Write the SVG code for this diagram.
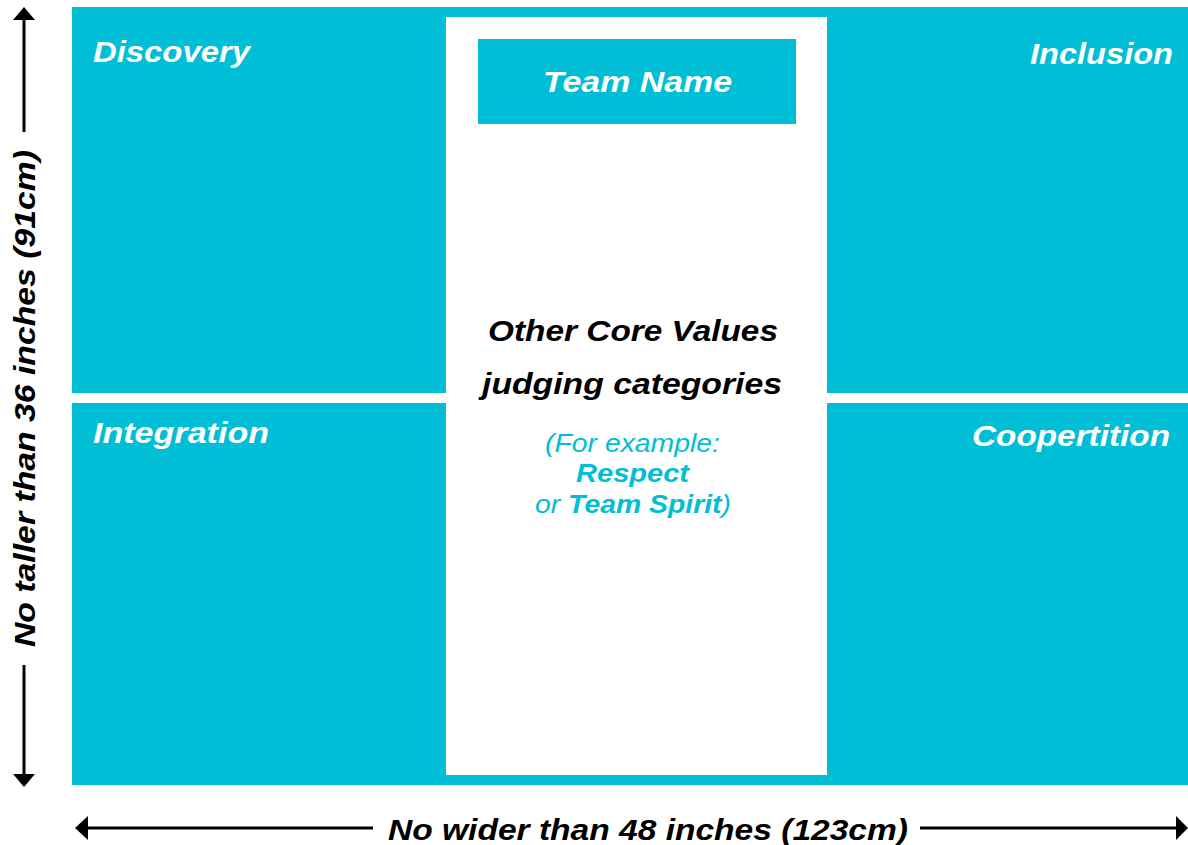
<svg xmlns="http://www.w3.org/2000/svg" width="1188" height="845" viewBox="0 0 1188 845">
<style>
.lbl{font-family:"Liberation Sans",Arial,sans-serif;font-weight:bold;font-style:italic;font-size:30px;fill:#fff}
.blk{font-family:"Liberation Sans",Arial,sans-serif;font-weight:bold;font-style:italic;font-size:30px;fill:#000}
.ex{font-family:"Liberation Sans",Arial,sans-serif;font-style:italic;font-size:25px;fill:#00BED5}
.exb{font-weight:bold}
.ln{stroke:#000;stroke-width:3;fill:none}
</style>
<rect width="1188" height="845" fill="#fff"/>
<g id="quadrants">
<rect x="72" y="7" width="1116" height="778" fill="#00BED5"/>
<rect x="72" y="393" width="1116" height="10" fill="#fff"/>
</g>
<g id="center">
<rect x="446" y="17" width="381" height="758" fill="#fff"/>
</g>
<g id="team-name">
<rect x="478" y="39" width="318" height="85" fill="#00BED5"/>
<text class="lbl" x="543" y="92" textLength="189" lengthAdjust="spacingAndGlyphs">Team Name</text>
</g>
<g id="discovery"><text class="lbl" x="93" y="62" textLength="157" lengthAdjust="spacingAndGlyphs">Discovery</text></g>
<g id="inclusion"><text class="lbl" x="1030" y="64" textLength="143" lengthAdjust="spacingAndGlyphs">Inclusion</text></g>
<g id="integration"><text class="lbl" x="93" y="443" textLength="176" lengthAdjust="spacingAndGlyphs">Integration</text></g>
<g id="coopertition"><text class="lbl" x="972" y="446" textLength="198" lengthAdjust="spacingAndGlyphs">Coopertition</text></g>
<g id="core-values">
<text class="blk" x="488" y="341" textLength="290" lengthAdjust="spacingAndGlyphs">Other Core Values</text>
<text class="blk" x="482" y="394" textLength="300" lengthAdjust="spacingAndGlyphs">judging categories</text>
<text class="ex" x="545" y="452" textLength="175" lengthAdjust="spacingAndGlyphs">(For example:</text>
<text class="ex exb" x="576" y="482" textLength="113" lengthAdjust="spacingAndGlyphs">Respect</text>
<text class="ex" x="535" y="513" textLength="196" lengthAdjust="spacingAndGlyphs">or <tspan class="exb">Team Spirit</tspan>)</text>
</g>
<g id="connectors">
<line class="ln" x1="24" y1="18" x2="24" y2="132"/>
<polygon points="24,7 13,20 35,20" fill="#000"/>
<line class="ln" x1="24" y1="665" x2="24" y2="776"/>
<polygon points="24,787 13,774 35,774" fill="#000"/>
<line class="ln" x1="88" y1="828" x2="373" y2="828"/>
<polygon points="75,828 88,816 88,840" fill="#000"/>
<line class="ln" x1="920" y1="828" x2="1176" y2="828"/>
<polygon points="1188,828 1176,816 1176,840" fill="#000"/>
</g>
<g id="dims">
<text class="blk" transform="translate(35,647) rotate(-90)" textLength="497" lengthAdjust="spacingAndGlyphs">No taller than 36 inches (91cm)</text>
<text class="blk" x="388" y="840" textLength="520" lengthAdjust="spacingAndGlyphs">No wider than 48 inches (123cm)</text>
</g>
</svg>
